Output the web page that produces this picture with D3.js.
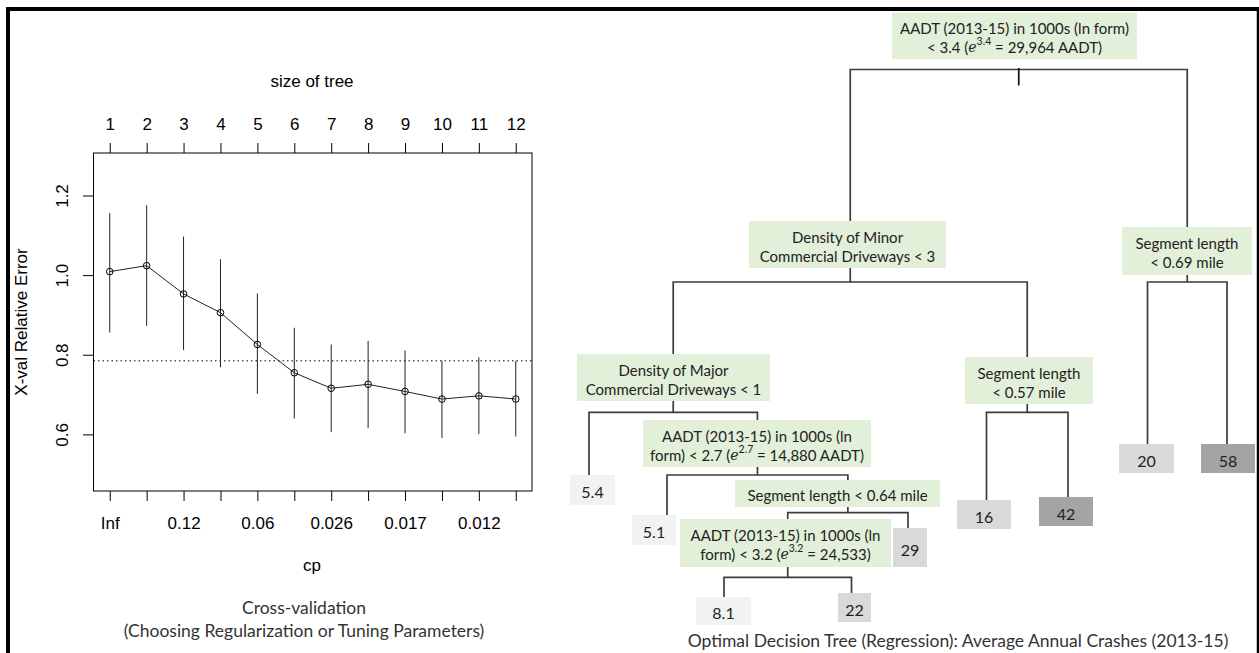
<!DOCTYPE html>
<html><head><meta charset="utf-8">
<script src="https://cdn.jsdelivr.net/npm/d3@7/dist/d3.min.js"></script>
<style>
html,body{margin:0;padding:0;background:#fff;}
svg{display:block;}
</style></head><body>
<svg id="chart" width="1259" height="653"></svg>
<script>
// ---------------- Cross-validation data ----------------
const treeSizes   = [1,2,3,4,5,6,7,8,9,10,11,12];
const xError      = [1.010,1.025,0.954,0.907,0.827,0.756,0.717,0.727,0.709,0.690,0.698,0.690];
const xErrorUpper = [1.157,1.177,1.098,1.041,0.955,0.869,0.827,0.836,0.812,0.786,0.795,0.786];
const xErrorLower = [0.857,0.874,0.813,0.770,0.703,0.641,0.607,0.617,0.604,0.592,0.602,0.596];
const cpTickPositions = [1,3,5,7,9,11];
const cpTickLabels    = ["Inf","0.12","0.06","0.026","0.017","0.012"];
const yTickValues     = [0.6,0.8,1.0,1.2];
const oneSeLine       = 0.786;

// ---------------- Decision tree data ----------------
const splitIds = ["root","minorDw","seg069","majorDw","seg057","aadt27","seg064","aadt32"];
const splitLabels = [
  ["AADT (2013-15) in 1000s (ln form)","< 3.4 (*e*^3.4^ = 29,964 AADT)"],
  ["Density of Minor","Commercial Driveways < 3"],
  ["Segment length","< 0.69 mile"],
  ["Density of Major","Commercial Driveways < 1"],
  ["Segment length","< 0.57 mile"],
  ["AADT (2013-15) in 1000s (ln","form) < 2.7 (*e*^2.7^ = 14,880 AADT)"],
  ["Segment length < 0.64 mile"],
  ["AADT (2013-15) in 1000s (ln","form) < 3.2 (*e*^3.2^ = 24,533)"]
];
const splitParents = ["", "root","root","minorDw","minorDw","majorDw","aadt27","seg064"];
const leafIds     = ["l1","l2","l3","l4","l5","l6","l7","l8","l9"];
const leafValues  = [5.4, 5.1, 8.1, 22, 29, 16, 42, 20, 58];
const leafParents = ["majorDw","aadt27","aadt32","aadt32","seg064","seg057","seg057","seg069","seg069"];
// order of children (left to right) for each split
const childOrder = {
  root:["minorDw","seg069"], minorDw:["majorDw","seg057"], seg069:["l8","l9"],
  majorDw:["l1","aadt27"], seg057:["l6","l7"], aadt27:["l2","seg064"],
  seg064:["aadt32","l5"], aadt32:["l3","l4"]
};

// ---------------- Layout (positions / sizes, not data) ----------------
const splitLayout = {
  root:   {box:[892,12.7,1137,59.3], branchY:69.5},
  minorDw:{box:[749,221,946,268],    branchY:282},
  seg069: {box:[1122,227,1252,275],  branchY:282},
  majorDw:{box:[577,354,770,401],    branchY:412.3},
  seg057: {box:[965,357,1093,404],   branchY:412.3},
  aadt27: {box:[643,420,871,467],    branchY:475},
  seg064: {box:[735,480,940,507],    branchY:512.7},
  aadt32: {box:[680,519,891,567],    branchY:577.3}
};
const leafLayout = {
  l1:{x:589,   box:[570,475,615,505]},
  l2:{x:667,   box:[632,515,676,545]},
  l3:{x:724,   box:[696,597,751,625]},
  l4:{x:851.5, box:[838,593,871,622]},
  l5:{x:908,   box:[893,528,927,567]},
  l6:{x:986.5, box:[957,500,1011,529]},
  l7:{x:1068,  box:[1039,497,1093,526]},
  l8:{x:1147.5,box:[1119,444,1174,473]},
  l9:{x:1227,  box:[1201,444,1255,473]}
};

const svg = d3.select("#chart");

// ---------------- Outer border ----------------
svg.append("line").attr("x1",6).attr("x2",1259).attr("y1",9).attr("y2",9)
  .attr("stroke","#000").attr("stroke-width",4);
svg.append("line").attr("x1",8).attr("x2",8).attr("y1",7).attr("y2",653)
  .attr("stroke","#000").attr("stroke-width",4);
svg.append("line").attr("x1",1258).attr("x2",1258).attr("y1",7).attr("y2",653)
  .attr("stroke","#000").attr("stroke-width",2.5);

// ---------------- Left: CV plot ----------------
const plotL = 93.5, plotR = 532, plotT = 153, plotB = 491;
const x = d3.scaleLinear().domain([0.56, 12.44]).range([plotL, plotR]);
const y = d3.scaleLinear().domain([0.459, 1.308]).range([plotB, plotT]);
const rFont = "'Liberation Sans', Arial, sans-serif";

const cv = svg.append("g").attr("font-family", rFont).attr("fill","#000");

cv.append("rect").attr("x",plotL).attr("y",plotT)
  .attr("width",plotR-plotL).attr("height",plotB-plotT)
  .attr("fill","none").attr("stroke","#000").attr("stroke-width",1);

// top axis (size of tree)
const topAxis = cv.append("g").attr("transform",`translate(0,${plotT})`)
  .call(d3.axisTop(x).tickValues(treeSizes).tickSize(10).tickPadding(13).tickFormat(d3.format("d")));
topAxis.select(".domain").remove();
topAxis.selectAll("text").attr("font-size",17).attr("font-family",rFont).attr("fill","#000");
topAxis.selectAll("line").attr("stroke","#000");

// bottom axis (cp)
const botAxis = cv.append("g").attr("transform",`translate(0,${plotB})`)
  .call(d3.axisBottom(x).tickValues(treeSizes).tickSize(10).tickPadding(16)
    .tickFormat(d => { const i = cpTickPositions.indexOf(d); return i >= 0 ? cpTickLabels[i] : ""; }));
botAxis.select(".domain").remove();
botAxis.selectAll("text").attr("font-size",17).attr("font-family",rFont).attr("fill","#000");
botAxis.selectAll("line").attr("stroke","#000");

// left axis (rotated labels)
const leftAxis = cv.append("g");
leftAxis.selectAll("line").data(yTickValues).join("line")
  .attr("x1",plotL-10.5).attr("x2",plotL).attr("y1",d=>y(d)).attr("y2",d=>y(d))
  .attr("stroke","#000");
leftAxis.selectAll("text").data(yTickValues).join("text")
  .attr("transform",d=>`translate(62.5,${y(d)}) rotate(-90)`)
  .attr("text-anchor","middle").attr("dominant-baseline","central")
  .attr("font-size",17).text(d3.format(".1f"));

// axis titles
cv.append("text").attr("x",312).attr("y",81).attr("text-anchor","middle")
  .attr("dominant-baseline","central").attr("font-size",17).text("size of tree");
cv.append("text").attr("x",312).attr("y",565).attr("text-anchor","middle")
  .attr("dominant-baseline","central").attr("font-size",17).text("cp");
cv.append("text").attr("transform",`translate(21,${(plotT+plotB)/2}) rotate(-90)`)
  .attr("text-anchor","middle").attr("dominant-baseline","central")
  .attr("font-size",17).text("X-val Relative Error");

// dotted reference line
cv.append("line").attr("x1",plotL).attr("x2",plotR)
  .attr("y1",y(oneSeLine)).attr("y2",y(oneSeLine))
  .attr("stroke","#000").attr("stroke-width",1).attr("stroke-dasharray","1.5,3");

// error bars
cv.append("g").selectAll("line").data(treeSizes).join("line")
  .attr("x1",(d)=>x(d)).attr("x2",(d)=>x(d))
  .attr("y1",(d,i)=>y(xErrorUpper[i])).attr("y2",(d,i)=>y(xErrorLower[i]))
  .attr("stroke","#222").attr("stroke-width",1);

// line through points
cv.append("path").datum(treeSizes)
  .attr("d", d3.line().x(d=>x(d)).y((d,i)=>y(xError[i])))
  .attr("fill","none").attr("stroke","#222").attr("stroke-width",1);

// points
cv.append("g").selectAll("circle").data(treeSizes).join("circle")
  .attr("cx",d=>x(d)).attr("cy",(d,i)=>y(xError[i])).attr("r",3.3)
  .attr("fill","none").attr("stroke","#000").attr("stroke-width",1);

// caption
const capFont = "Lato, 'Open Sans', sans-serif";
cv.append("text").attr("x",304).attr("y",607).attr("text-anchor","middle")
  .attr("dominant-baseline","central").attr("font-family",capFont)
  .attr("font-size",17.5).attr("fill","#333").text("Cross-validation");
cv.append("text").attr("x",304).attr("y",630).attr("text-anchor","middle")
  .attr("dominant-baseline","central").attr("font-family",capFont)
  .attr("font-size",17.5).attr("fill","#333").text("(Choosing Regularization or Tuning Parameters)");

// ---------------- Right: decision tree ----------------
const table = [{id:"root", parentId:null}];
splitIds.forEach((id,i)=>{ if(i>0) table.push({id, parentId:splitParents[i]}); });
leafIds.forEach((id,i)=>table.push({id, parentId:leafParents[i]}));
const root = d3.stratify().id(d=>d.id).parentId(d=>d.parentId)(table);
root.each(n=>{ if(n.children){ const ord = childOrder[n.id]; n.children.sort((a,b)=>ord.indexOf(a.id)-ord.indexOf(b.id)); }});
// position: leaves from layout, splits centred over their children
root.eachAfter(n=>{
  if(!n.children) n.x = leafLayout[n.id].x;
  else n.x = d3.mean(n.children, c=>c.x);
});
const boxOf = n => n.children ? splitLayout[n.id].box : leafLayout[n.id].box;

const shade = d3.scaleThreshold().domain([10,35]).range(["#f2f2f2","#d9d9d9","#a4a4a4"]);
const tree = svg.append("g").attr("font-family",capFont);
const edgeColor = "#3c3c3c", edgeW = 1.7;

// connectors
root.each(n=>{
  if(!n.children) return;
  const lay = splitLayout[n.id];
  const [a,b] = n.children;
  const ta = boxOf(a)[1], tb = boxOf(b)[1];
  tree.append("path")
    .attr("d",`M${a.x},${ta}V${lay.branchY}H${b.x}V${tb}`)
    .attr("fill","none").attr("stroke",edgeColor).attr("stroke-width",edgeW);
  if(n.id === "root"){
    tree.append("line").attr("x1",n.x).attr("x2",n.x)
      .attr("y1",lay.branchY-1.5).attr("y2",lay.branchY+16)
      .attr("stroke","#111").attr("stroke-width",edgeW);
  } else {
    tree.append("line").attr("x1",n.x).attr("x2",n.x)
      .attr("y1",lay.box[3]).attr("y2",lay.branchY)
      .attr("stroke",edgeColor).attr("stroke-width",edgeW);
  }
});

// split boxes
function addRichLine(textSel, str){
  const parts = str.split(/(\*e\*|\^[^^]+\^)/).filter(s=>s.length);
  let shifted = false;
  parts.forEach(p=>{
    const t = textSel.append("tspan");
    if(p === "*e*"){
      t.attr("font-style","italic").attr("font-family","'DejaVu Serif', serif").attr("font-size",14).text("e");
    } else if(p[0]==="^"){
      t.attr("font-size",10.5).attr("dy",-6).text(p.slice(1,-1)); shifted = true;
    } else {
      if(shifted){ t.attr("dy",6); shifted=false; }
      t.text(p);
    }
  });
}
root.each(n=>{
  if(!n.children) return;
  const i = splitIds.indexOf(n.id);
  const [x0,y0,x1,y1] = splitLayout[n.id].box;
  tree.append("rect").attr("x",x0).attr("y",y0).attr("width",x1-x0).attr("height",y1-y0)
    .attr("fill","#e2efd9");
  const lines = splitLabels[i];
  const cy = (y0+y1)/2 + 1.5;
  lines.forEach((ln,k)=>{
    const t = tree.append("text").attr("x",(x0+x1)/2)
      .attr("y", cy + (k-(lines.length-1)/2)*19)
      .attr("text-anchor","middle").attr("dominant-baseline","central")
      .attr("font-size",15).attr("fill","#222");
    addRichLine(t, ln);
  });
});

// leaves
root.leaves().forEach(n=>{
  const i = leafIds.indexOf(n.id);
  const [x0,y0,x1,y1] = leafLayout[n.id].box;
  tree.append("rect").attr("x",x0).attr("y",y0).attr("width",x1-x0).attr("height",y1-y0)
    .attr("fill",shade(leafValues[i]));
  tree.append("text").attr("x",(x0+x1)/2).attr("y",(y0+y1)/2+1.5)
    .attr("text-anchor","middle").attr("dominant-baseline","central")
    .attr("font-size",16).attr("fill","#222").text(leafValues[i]);
});

tree.append("text").attr("x",958).attr("y",640).attr("text-anchor","middle")
  .attr("dominant-baseline","central").attr("font-size",17.5).attr("fill","#333")
  .text("Optimal Decision Tree (Regression): Average Annual Crashes (2013-15)");
</script>
</body></html>
